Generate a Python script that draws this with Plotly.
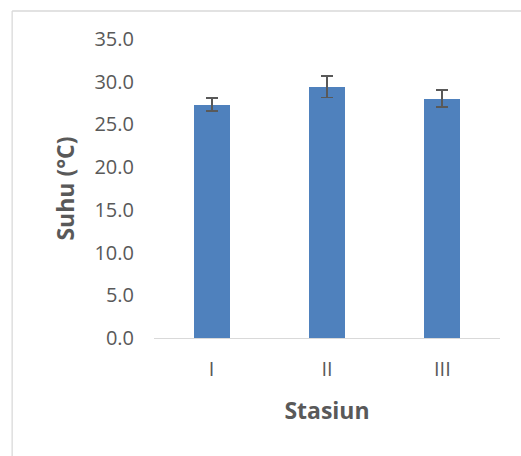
import plotly.graph_objects as go

categories = ["I", "II", "III"]
values = [27.3, 29.4, 28.0]
errors = [0.75, 1.25, 1.0]
y_ticks = [0, 5, 10, 15, 20, 25, 30, 35]
y_tick_labels = ["0.0", "5.0", "10.0", "15.0", "20.0", "25.0", "30.0", "35.0"]

FONT = "'Open Sans', sans-serif"
GREY = "#595959"

fig = go.Figure(
    go.Bar(
        x=categories,
        y=values,
        width=0.31,
        marker=dict(color="#4F81BD", line=dict(width=0)),
        error_y=dict(type="data", array=errors, visible=True,
                     color=GREY, thickness=1.8, width=6),
    )
)

fig.update_layout(
    width=521, height=456,
    margin=dict(l=154, r=21, t=39, b=118),
    paper_bgcolor="white", plot_bgcolor="white",
    showlegend=False,
    font=dict(family=FONT, color=GREY),
    bargap=0,
    xaxis=dict(
        showline=True, linecolor="#D9D9D9", linewidth=1.3,
        ticks="", showgrid=False, zeroline=False,
        tickfont=dict(size=20, color=GREY),
        ticklabelstandoff=13,
        title=dict(text="<b>Stasiun</b>", font=dict(size=23, color=GREY), standoff=21),
    ),
    yaxis=dict(
        range=[0, 35], tickvals=y_ticks, ticktext=y_tick_labels,
        showline=False, showgrid=False, zeroline=False, ticks="",
        tickfont=dict(size=20, color=GREY),
        ticklabelstandoff=19,
        title=dict(text="<b>Suhu (°C)</b>", font=dict(size=23, color=GREY), standoff=13),
    ),
    shapes=[
        dict(type="line", xref="paper", yref="paper", x0=-0.41, x1=1.2, y0=1.0936, y1=1.0936,
             line=dict(color="#D9D9D9", width=1.3)),
        dict(type="line", xref="paper", yref="paper", x0=-0.41, x1=-0.41, y0=-0.5, y1=1.0936,
             line=dict(color="#D9D9D9", width=1.3)),
    ],
)

fig.write_html("out.html", config={"displayModeBar": False},
               post_script="document.body.style.margin='0';document.body.style.overflow='hidden';")
